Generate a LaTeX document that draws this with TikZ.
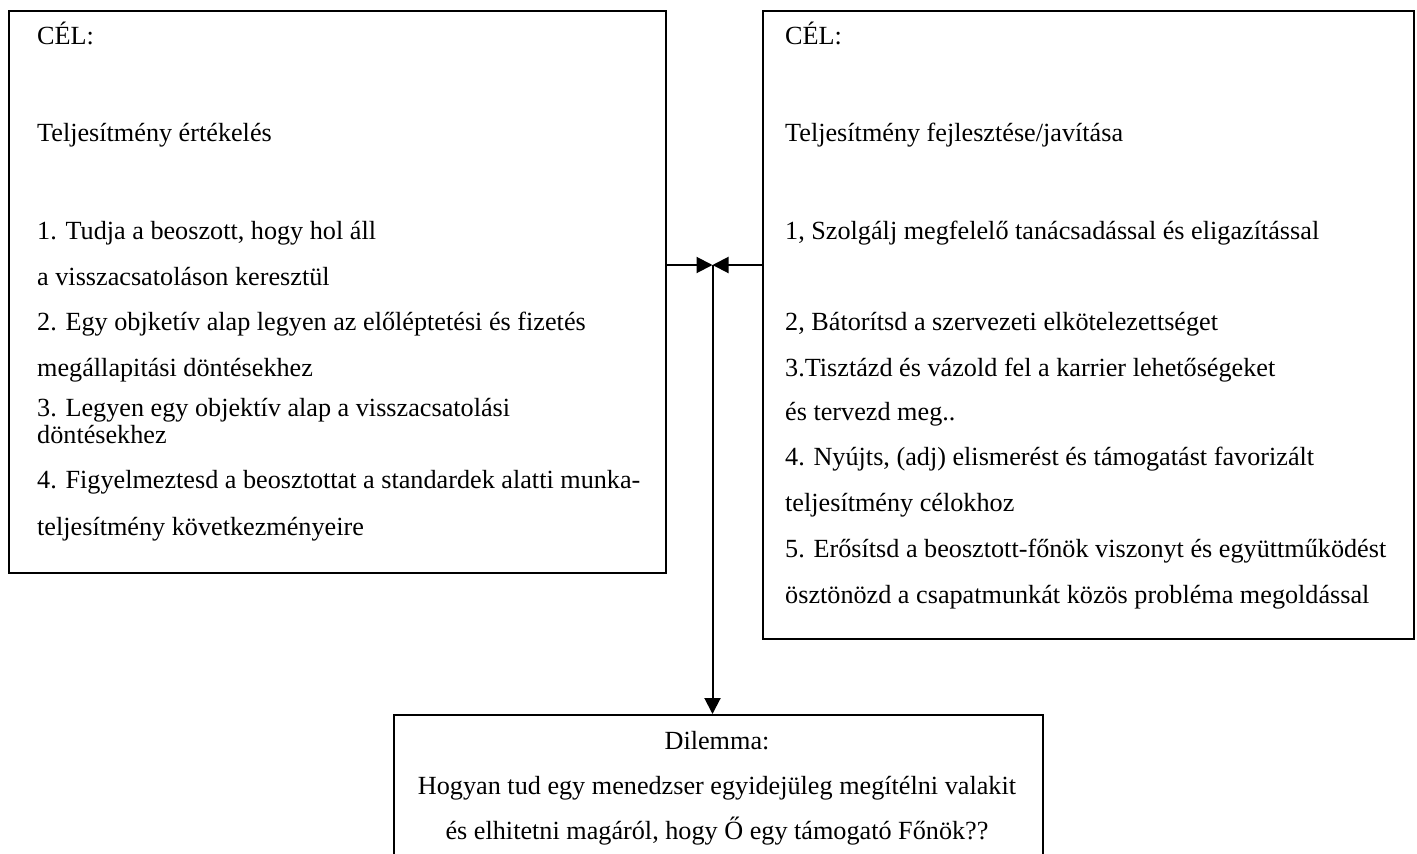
\documentclass[tikz,border=0pt]{standalone}
\usepackage{fontspec}
\setmainfont{Liberation Serif}
\usetikzlibrary{arrows.meta}

\tikzset{
  panel/.style={draw=black, line width=2pt, rectangle, inner sep=0pt, anchor=north west},
  txt/.style={anchor=base west, inner sep=0pt, font=\fontsize{26.2}{30}\selectfont},
  ctxt/.style={anchor=base, inner sep=0pt, font=\fontsize{26.2}{30}\selectfont},
  link/.style={line width=2pt, -{Triangle[length=16pt, width=16pt]}},
}

\begin{document}
\begin{tikzpicture}[x=1pt, y=-1pt]
  \clip (0,0) rectangle (1417,854);
  \fill[white] (0,0) rectangle (1417,854);

  % the three frames
  \node[panel, minimum width=657pt, minimum height=562pt] (evalbox) at (8,10) {};
  \node[panel, minimum width=651pt, minimum height=628pt] (devbox) at (762,10) {};
  \node[panel, minimum width=649pt, minimum height=200pt] (dilbox) at (393,714) {};

  % left frame: appraisal
  \node[txt] (l0) at (37,44)  {CÉL:};
  \node[txt] (l1) at (37,141) {Teljesítmény értékelés};
  \node[txt] (l2) at (37,239) {1. Tudja a beoszott, hogy hol áll};
  \node[txt] (l3) at (37,285) {a visszacsatoláson keresztül};
  \node[txt] (l4) at (37,330) {2. Egy objketív alap legyen az előléptetési és fizetés};
  \node[txt] (l5) at (37,376) {megállapitási döntésekhez};
  \node[txt] (l6) at (37,416) {3. Legyen egy objektív alap a visszacsatolási};
  \node[txt] (l7) at (37,443) {döntésekhez};
  \node[txt] (l8) at (37,488) {4. Figyelmeztesd a beosztottat a standardek alatti munka-};
  \node[txt] (l9) at (37,535) {teljesítmény következményeire};

  % right frame: development
  \node[txt] (r0) at (785,44)  {CÉL:};
  \node[txt] (r1) at (785,141) {Teljesítmény fejlesztése/javítása};
  \node[txt] (r2) at (785,239) {1, Szolgálj megfelelő tanácsadással és eligazítással};
  \node[txt] (r3) at (785,330) {2, Bátorítsd a szervezeti elkötelezettséget};
  \node[txt] (r4) at (785,376) {3.Tisztázd és vázold fel a karrier lehetőségeket};
  \node[txt] (r5) at (785,420) {és tervezd meg..};
  \node[txt] (r6) at (785,465) {4. Nyújts, (adj) elismerést és támogatást favorizált};
  \node[txt] (r7) at (785,511) {teljesítmény célokhoz};
  \node[txt] (r8) at (785,557) {5. Erősítsd a beosztott-főnök viszonyt és együttműködést};
  \node[txt] (r9) at (785,603) {ösztönözd a csapatmunkát közös probléma megoldással};

  % bottom frame: dilemma
  \node[ctxt] (d0) at (717,749) {Dilemma:};
  \node[ctxt] (d1) at (717,794) {Hogyan tud egy menedzser egyidejüleg megítélni valakit};
  \node[ctxt] (d2) at (717,839) {és elhitetni magáról, hogy Ő egy támogató Főnök??};

  % connectors
  \coordinate (meet) at (712.5,265);
  \draw[link] (evalbox.east |- meet) -- (meet);
  \draw[link] (devbox.west |- meet) -- (meet);
  \draw[link] (meet) -- (meet |- dilbox.north);
\end{tikzpicture}
\end{document}
